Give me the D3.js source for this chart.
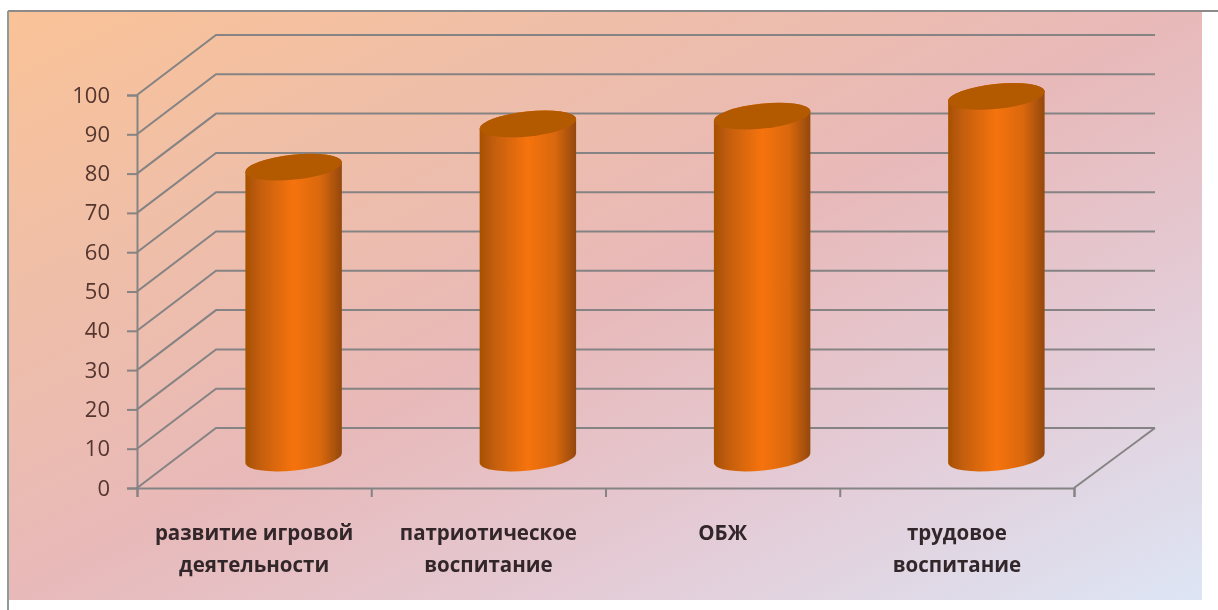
<!DOCTYPE html>
<html>
<head>
<meta charset="utf-8">
<script src="https://cdn.jsdelivr.net/npm/d3@7"></script>
<style>
body { margin: 0; background: #fff; }
svg { display: block; }
text { font-family: "Open Sans", sans-serif; }
</style>
</head>
<body>
<svg id="chart"></svg>
<script>
const width = 1218;
const height = 610;

const categories = ['развитие игровой|деятельности', 'патриотическое|воспитание', 'ОБЖ', 'трудовое|воспитание'];
const values = [74, 85, 87, 92];
const yTicks = [0, 10, 20, 30, 40, 50, 60, 70, 80, 90, 100];

// сдвиг задней стенки относительно передней оси
const depthX = 79;
const depthY = -60;

const svg = d3.select('#chart').attr('width', width).attr('height', height);
const defs = svg.append('defs');

const x = d3.scaleBand().domain(categories).range([137, 1074]).paddingInner(0.586).paddingOuter(0.293);
const y = d3.scaleLinear().domain([0, 100]).range([488, 95]);

// фон
const bg = defs.append('linearGradient').attr('id', 'bg')
    .attr('x1', 0).attr('y1', 0).attr('x2', 1).attr('y2', 1);
[[0, '#fac297'], [0.22, '#f0bfa6'], [0.5, '#e8b9b9'], [0.72, '#e4cad4'], [1, '#dde5f5']]
    .forEach(s => bg.append('stop').attr('offset', s[0]).attr('stop-color', s[1]));

// цилиндр
const body = defs.append('linearGradient').attr('id', 'body');
[[0, '#a65005'], [0.18, '#c8600a'], [0.5, '#f6730a'], [0.78, '#d9680a'], [1, '#94480a']]
    .forEach(s => body.append('stop').attr('offset', s[0]).attr('stop-color', s[1]));

defs.append('filter').attr('id', 'soft')
    .append('feGaussianBlur').attr('stdDeviation', 0.6);

svg.append('rect').attr('x', 8).attr('y', 11).attr('width', 1194).attr('height', 589).attr('fill', 'url(#bg)');
svg.append('line').attr('x1', 8).attr('x2', width).attr('y1', 11).attr('y2', 11)
    .attr('stroke', '#8f8a8a').attr('stroke-width', 2);
svg.append('line').attr('x1', 8).attr('x2', 8).attr('y1', 11).attr('y2', height)
    .attr('stroke', '#8f9a9a').attr('stroke-width', 2);

const plot = svg.append('g').attr('filter', 'url(#soft)');
const gridColor = '#858383';

// линии сетки: боковая стенка и задняя стенка
const line = d3.line();
plot.append('g').selectAll('path')
    .data(yTicks)
    .enter()
    .append('path')
    .attr('fill', 'none')
    .attr('stroke', gridColor)
    .attr('stroke-width', 2)
    .attr('d', d => line([
        [x.range()[0], y(d)],
        [x.range()[0] + depthX, y(d) + depthY],
        [x.range()[1] + depthX + 2, y(d) + depthY]
    ]));

// правый край пола
plot.append('path')
    .attr('fill', 'none')
    .attr('stroke', gridColor)
    .attr('stroke-width', 2)
    .attr('d', line([[x.range()[1], y(0)], [x.range()[1] + depthX + 2, y(0) + depthY]]));

// оси
const yAxis = plot.append('g').attr('transform', `translate(${x.range()[0]},0)`)
    .call(d3.axisLeft(y).tickValues(yTicks).tickSize(10).tickPadding(17));
yAxis.selectAll('line, path').attr('stroke', gridColor).attr('stroke-width', 2);
yAxis.selectAll('text').attr('font-size', 22).attr('fill', '#54352f');

const xEdges = d3.scaleLinear().domain([0, categories.length]).range(x.range());
const xAxis = plot.append('g').attr('transform', `translate(0,${y(0)})`)
    .call(d3.axisBottom(xEdges).ticks(categories.length).tickSize(9).tickFormat(''));
xAxis.selectAll('line, path').attr('stroke', gridColor).attr('stroke-width', 2);

// цилиндры
const rx = x.bandwidth() / 2;
const ry = 12.5;
const tilt = -6;
const endX = rx * Math.cos(tilt * Math.PI / 180);
const endY = rx * Math.sin(tilt * Math.PI / 180);

const bars = plot.append('g').selectAll('g')
    .data(categories)
    .enter()
    .append('g')
    .attr('transform', d => `translate(${x(d) + rx + depthX / 2},0)`);

bars.append('path')
    .attr('fill', 'url(#body)')
    .attr('d', (d, i) => {
        const top = y(values[i]) + depthY / 2;
        const base = y(0) + depthY / 2;
        return `M${-endX},${top - endY} L${-endX},${base - endY}` +
            `A${rx},${ry} ${tilt} 0 0 ${endX},${base + endY}` +
            `L${endX},${top + endY}` +
            `A${rx},${ry} ${tilt} 0 0 ${-endX},${top - endY}Z`;
    });

bars.append('ellipse')
    .attr('rx', rx)
    .attr('ry', ry)
    .attr('fill', '#b35a06')
    .attr('transform', (d, i) => `translate(0,${y(values[i]) + depthY / 2}) rotate(${tilt})`);

// подписи категорий
const labels = plot.append('g').selectAll('text')
    .data(categories)
    .enter()
    .append('text')
    .attr('text-anchor', 'middle')
    .attr('font-size', 20.5)
    .attr('font-weight', 700)
    .attr('fill', '#33282a')
    .attr('transform', d => `translate(${x(d) + rx},540)`);

labels.selectAll('tspan')
    .data(d => d.split('|'))
    .enter()
    .append('tspan')
    .attr('x', 0)
    .attr('dy', (d, i) => i ? 32 : 0)
    .text(d => d);
</script>
</body>
</html>
